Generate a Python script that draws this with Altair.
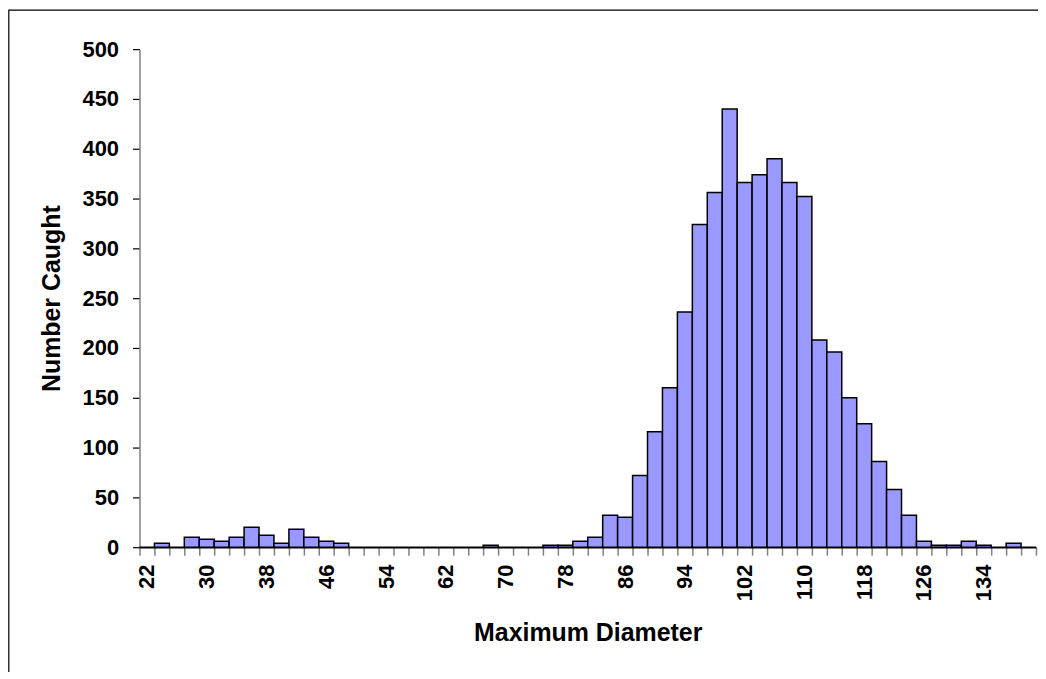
import altair as alt
import pandas as pd

diameters = [22, 24, 26, 28, 30, 32, 34, 36, 38, 40, 42, 44, 46, 48, 50, 52, 54, 56, 58, 60,
             62, 64, 66, 68, 70, 72, 74, 76, 78, 80, 82, 84, 86, 88, 90, 92, 94, 96, 98, 100,
             102, 104, 106, 108, 110, 112, 114, 116, 118, 120, 122, 124, 126, 128, 130, 132, 134, 136, 138, 140]
counts = [0, 4, 0, 10, 8, 6, 10, 20, 12, 4, 18, 10, 6, 4, 0, 0, 0, 0, 0, 0,
          0, 0, 0, 2, 0, 0, 0, 2, 2, 6, 10, 32, 30, 72, 116, 160, 236, 324, 356, 440,
          366, 374, 390, 366, 352, 208, 196, 150, 124, 86, 58, 32, 6, 2, 2, 6, 2, 0, 4, 0]
y_ticks = [0, 50, 100, 150, 200, 250, 300, 350, 400, 450, 500]

df = pd.DataFrame({"diameter": diameters, "count": counts})
frame_df = pd.DataFrame({"k": [0]})

FONT = "Liberation Sans"

bars = alt.Chart(df).mark_bar(
    fill="#9999FF", stroke="#000000", strokeWidth=1.5
).encode(
    x=alt.X(
        "diameter:O",
        scale=alt.Scale(domain=diameters, paddingInner=0, paddingOuter=0),
        axis=alt.Axis(
            title="Maximum Diameter",
            labelAngle=270,
            labelExpr="(datum.value - 22) % 8 == 0 ? datum.label : ''",
            labelOverlap=False,
            labelFont=FONT, labelFontSize=22, labelFontWeight="bold", labelColor="#000000",
            labelPadding=9,
            tickBand="extent", tickSize=8, tickColor="#808080", tickWidth=1.5,
            domainColor="#000000", domainWidth=1.5,
            titleFont=FONT, titleFontSize=25, titleFontWeight="bold", titleColor="#000000",
            titlePadding=20,
        ),
    ),
    y=alt.Y(
        "count:Q",
        scale=alt.Scale(domain=[0, 500], nice=False),
        axis=alt.Axis(
            title="Number Caught",
            values=y_ticks,
            grid=False,
            labelFont=FONT, labelFontSize=22, labelFontWeight="bold", labelColor="#000000",
            labelPadding=14,
            tickSize=7, tickColor="#000000", tickWidth=1.2,
            domainColor="#808080", domainWidth=1.5,
            titleFont=FONT, titleFontSize=25, titleFontWeight="bold", titleColor="#000000",
            titlePadding=18,
        ),
    ),
)

frame = alt.Chart(frame_df).mark_rect(
    fill="transparent", stroke="#000000", strokeWidth=1.2
).encode(
    x=alt.value(-131.2), x2=alt.value(2000), y=alt.value(-39.2), y2=alt.value(2000)
)

chart = alt.layer(bars, frame).properties(
    width=900, height=500,
    autosize=alt.AutoSizeParams(type="none"),
    padding={"left": 132, "top": 40, "right": 2, "bottom": 124},
).configure(background="#ffffff").configure_view(stroke=None)

chart.save("out.html", embed_options={"renderer": "svg", "actions": False})
